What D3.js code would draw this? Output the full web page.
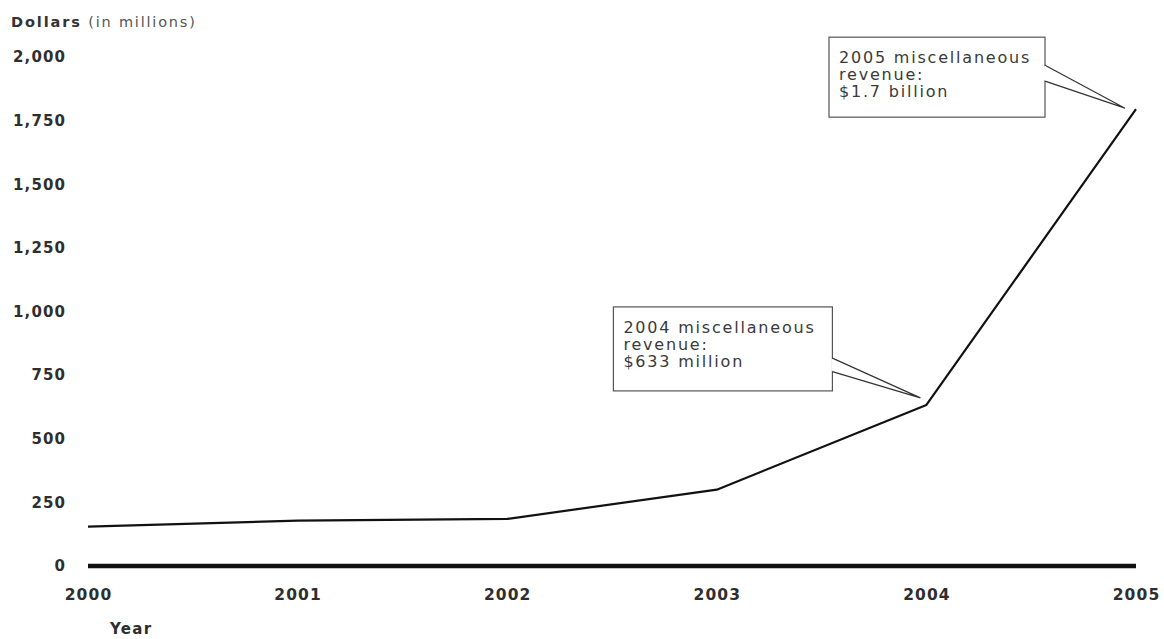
<!DOCTYPE html>
<html><head><meta charset="utf-8">
<script src="https://cdn.jsdelivr.net/npm/d3@7/dist/d3.min.js"></script>
<style>
body{margin:0;background:#fff;}
svg{display:block;font-family:"DejaVu Sans",sans-serif;}
</style></head>
<body><svg id="chart" width="1164" height="639"></svg>
<script>
const years = [2000, 2001, 2002, 2003, 2004, 2005];
const revenue = [155, 178, 185, 300, 633, 1795];
const yTicks = [0, 250, 500, 750, 1000, 1250, 1500, 1750, 2000];
const calloutYears = [2004, 2005];
const calloutLines = [
  ["2004 miscellaneous", "revenue:", "$633 million"],
  ["2005 miscellaneous", "revenue:", "$1.7 billion"]
];

const svg = d3.select("#chart");
const x = d3.scaleLinear().domain([2000, 2005]).range([88, 1136]);
const y = d3.scaleLinear().domain([0, 2000]).range([566, 57]);

const labelStyle = sel => sel.attr("font-size", 15).attr("font-weight", "bold").attr("fill", "#2e2e2e")
  .attr("letter-spacing", 1.1).attr("font-family", "DejaVu Sans, sans-serif");

// y axis
const ya = svg.append("g").attr("transform", "translate(88,0)")
  .call(d3.axisLeft(y).tickValues(yTicks).tickFormat(d3.format(",")).tickSize(0).tickPadding(22));
ya.select(".domain").remove();
ya.selectAll("text").call(labelStyle);

// x axis
const xa = svg.append("g").attr("transform", "translate(0,566)")
  .call(d3.axisBottom(x).tickValues(years).tickFormat(d3.format("d")).tickSize(0).tickPadding(23));
xa.select(".domain").remove();
xa.selectAll("text").call(labelStyle).attr("font-size", 15.5);

// baseline
svg.append("line").attr("x1", x(2000)).attr("x2", x(2005)).attr("y1", y(0)).attr("y2", y(0))
  .attr("stroke", "#111").attr("stroke-width", 4.5);

// axis titles
const yt = svg.append("text").attr("x", 11).attr("y", 27).attr("font-size", 14.5).attr("fill", "#333");
yt.append("tspan").attr("font-weight", "bold").attr("letter-spacing", 1.9).text("Dollars");
yt.append("tspan").attr("fill", "#555").attr("letter-spacing", 1.8).text(" (in millions)");
svg.append("text").attr("x", 110).attr("y", 634).attr("font-size", 15).attr("font-weight", "bold")
  .attr("letter-spacing", 1.3).attr("fill", "#2e2e2e").text("Year");

// data line
const pts = years.map((yr, i) => [yr, revenue[i]]);
svg.append("path").datum(pts)
  .attr("d", d3.line().x(d => x(d[0])).y(d => y(d[1])))
  .attr("fill", "none").attr("stroke", "#111").attr("stroke-width", 2.2).attr("stroke-linejoin", "round");

// callouts
const boxes = [
  {w: 219, h: 84, dx: -313, dy: -98, tdx: -6, tdy: -7, a1: 0.61, a2: 0.77},
  {w: 216, h: 80, dx: -307, dy: -72, tdx: -11, tdy: -1, a1: 0.35, a2: 0.55}
];
calloutYears.forEach((yr, i) => {
  const v = revenue[years.indexOf(yr)];
  const b = boxes[i];
  const ptx = x(yr), pty = y(v);
  const px = ptx + b.tdx, py = pty + b.tdy;
  const bx = ptx + b.dx, by = pty + b.dy;
  const g = svg.append("g");
  g.append("rect").attr("x", bx).attr("y", by).attr("width", b.w).attr("height", b.h)
    .attr("fill", "#fff").attr("stroke", "#555").attr("stroke-width", 1.2);
  const r = bx + b.w;
  g.append("path")
    .attr("d", `M${r},${by + b.h*b.a1} L${px},${py} L${r},${by + b.h*b.a2}`)
    .attr("fill", "#fff").attr("stroke", "#333").attr("stroke-width", 1.2);
  g.append("line").attr("x1", r).attr("x2", r).attr("y1", by + b.h*b.a1 + 1).attr("y2", by + b.h*b.a2 - 1)
    .attr("stroke", "#fff").attr("stroke-width", 2);
  calloutLines[i].forEach((t, j) => {
    g.append("text").attr("x", bx + 10).attr("y", by + 26 + j*17)
      .attr("font-size", 16).attr("letter-spacing", 1.8).attr("fill", "#3a3a3a").text(t);
  });
});
</script></body></html>
